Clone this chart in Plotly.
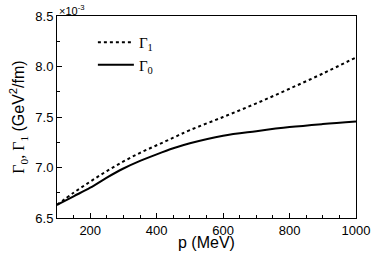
import plotly.graph_objects as go

p_mev = [100, 150, 200, 250, 300, 350, 400, 450, 500, 600, 700, 800, 900, 1000]
gamma0 = [6.63, 6.715, 6.80, 6.90, 6.99, 7.065, 7.13, 7.19, 7.24, 7.315, 7.36, 7.40, 7.43, 7.455]
gamma1 = [6.63, 6.75, 6.86, 6.965, 7.06, 7.145, 7.22, 7.295, 7.37, 7.50, 7.635, 7.78, 7.93, 8.09]

x_ticks = [200, 400, 600, 800, 1000]
y_ticks = [6.5, 7.0, 7.5, 8.0, 8.5]
y_tick_labels = ["6.5", "7.0", "7.5", "8.0", "8.5"]

serif = "Liberation Serif"
sans = "Liberation Sans"

fig = go.Figure()
fig.add_trace(go.Scatter(
    x=p_mev, y=gamma1, mode="lines", name="Γ<sub>1</sub>",
    line=dict(color="black", width=2, dash="dot", shape="spline"),
))
fig.add_trace(go.Scatter(
    x=p_mev, y=gamma0, mode="lines", name="Γ<sub>0</sub>",
    line=dict(color="black", width=2, shape="spline"),
))

axis_common = dict(
    showline=True, linecolor="black", linewidth=1, mirror=True,
    ticks="inside", ticklen=5, tickcolor="black", tickwidth=1,
    showgrid=False, zeroline=False, automargin=False,
    tickfont=dict(family=sans, size=13, color="black"),
)

fig.update_xaxes(
    range=[100, 1000], tickvals=x_ticks,
    minor=dict(dtick=50, tick0=0, ticks="inside", ticklen=3, tickcolor="black", showgrid=False),
    **axis_common,
)
fig.update_yaxes(
    range=[6.5, 8.5], tickvals=y_ticks, ticktext=y_tick_labels,
    minor=dict(dtick=0.25, tick0=6.5, ticks="inside", ticklen=3, tickcolor="black", showgrid=False),
    title=dict(
        text="<span style='font-family:Liberation Serif'>Γ<sub>0</sub>, Γ<sub>1</sub></span> (GeV<sup>2</sup>/fm)",
        font=dict(family=sans, size=16, color="black"), standoff=6),
    **axis_common,
)

fig.add_annotation(
    text="p (MeV)", xref="paper", yref="paper", x=0.5, y=0,
    xanchor="center", yanchor="top", showarrow=False,
    font=dict(family=sans, size=16, color="black"), yshift=-14,
)

fig.add_annotation(
    text="×10<sup>-3</sup>", xref="paper", yref="paper", x=0, y=1,
    xanchor="left", yanchor="bottom", showarrow=False,
    font=dict(family=sans, size=11, color="black"), yshift=-3,
)

fig.update_layout(
    width=374, height=253,
    margin=dict(l=57, r=18, t=16, b=35, autoexpand=False),
    paper_bgcolor="white", plot_bgcolor="white",
    showlegend=True,
    legend=dict(
        x=0.12, y=0.95, xanchor="left", yanchor="top",
        bgcolor="rgba(0,0,0,0)",
        font=dict(family=serif, size=15, color="black"),
        tracegroupgap=0, itemwidth=36,
    ),
)

fig.write_html(
    "out.html",
    config={"displayModeBar": False},
    post_script="document.body.style.margin='0';document.body.style.overflow='hidden';",
)
